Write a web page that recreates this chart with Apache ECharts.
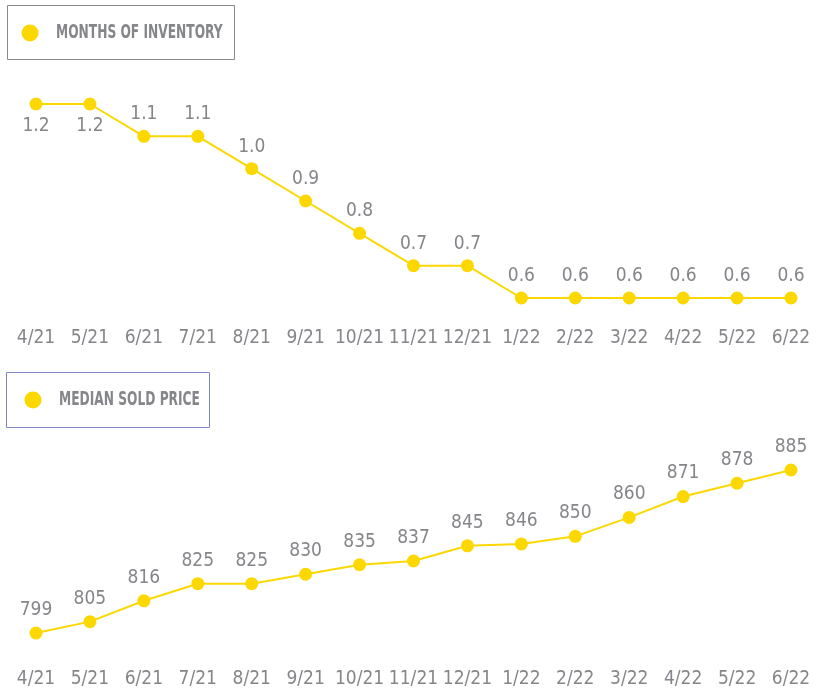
<!DOCTYPE html>
<html><head><meta charset="utf-8">
<script src="https://cdn.jsdelivr.net/npm/echarts@6/dist/echarts.min.js"></script>
<style>html,body{margin:0;padding:0;background:#fff}#c{width:819px;height:691px}</style>
</head><body><div id="c"></div>
<script>
const months = ['4/21','5/21','6/21','7/21','8/21','9/21','10/21','11/21','12/21','1/22','2/22','3/22','4/22','5/22','6/22'];
const inventory = [1.2,1.2,1.1,1.1,1.0,0.9,0.8,0.7,0.7,0.6,0.6,0.6,0.6,0.6,0.6];
const price = [799,805,816,825,825,830,835,837,845,846,850,860,871,878,885];
const invName = 'MONTHS OF INVENTORY';
const priceName = 'MEDIAN SOLD PRICE';

const FONT = '"Liberation Sans Narrow","DejaVu Sans Condensed","Roboto Condensed",sans-serif';
const GRAY = '#85868a';
const YEL = '#fcd800';

function legendBox(x, y, w, h, stroke, cx, cy, tx, name) {
  return {type:'group', children:[
    {type:'rect', shape:{x:x+0.5, y:y+0.5, width:w, height:h}, style:{fill:'none', stroke:stroke, lineWidth:1}},
    {type:'circle', shape:{cx:cx, cy:cy, r:8.5}, style:{fill:YEL}},
    {type:'text', x:tx, y:cy, scaleX:0.68, style:{text:name, fill:GRAY, font:'bold 20px ' + FONT, textVerticalAlign:'middle'}}
  ]};
}

const chart = echarts.init(document.getElementById('c'));
const labelStyle = {show:true, color:GRAY, fontFamily:FONT, fontSize:19, distance:6};
chart.setOption({
  animation:false,
  graphic:[
    legendBox(7, 5, 227, 54, '#8a8a8a', 30, 33, 56, invName),
    legendBox(6, 372, 203, 55, '#7f86c4', 33, 400, 59, priceName)
  ],
  grid:[
    {left:36, right:28, top:104, height:194},
    {left:36, right:28, top:470, height:163}
  ],
  xAxis:[
    {type:'category', gridIndex:0, data:months, boundaryGap:false,
     axisLine:{show:false}, axisTick:{show:false},
     axisLabel:{color:GRAY, fontFamily:FONT, fontSize:19, margin:31, interval:0}},
    {type:'category', gridIndex:1, data:months, boundaryGap:false,
     axisLine:{show:false}, axisTick:{show:false},
     axisLabel:{color:GRAY, fontFamily:FONT, fontSize:19, margin:37, interval:0}}
  ],
  yAxis:[
    {type:'value', gridIndex:0, min:0.6, max:1.2, show:false, splitLine:{show:false}},
    {type:'value', gridIndex:1, min:799, max:885, show:false, splitLine:{show:false}}
  ],
  series:[
    {name:invName, type:'line', xAxisIndex:0, yAxisIndex:0,
     data:inventory.map((v,i)=>({value:v, label:{position: v>=1.2 ? 'bottom':'top'}})),
     symbol:'circle', symbolSize:13, itemStyle:{color:YEL}, lineStyle:{color:YEL, width:2},
     label:Object.assign({}, labelStyle, {formatter:p=>p.value.toFixed(1)})},
    {name:priceName, type:'line', xAxisIndex:1, yAxisIndex:1, data:price,
     symbol:'circle', symbolSize:13, itemStyle:{color:YEL}, lineStyle:{color:YEL, width:2},
     label:Object.assign({}, labelStyle, {position:'top', distance:7})}
  ]
});
</script></body></html>
